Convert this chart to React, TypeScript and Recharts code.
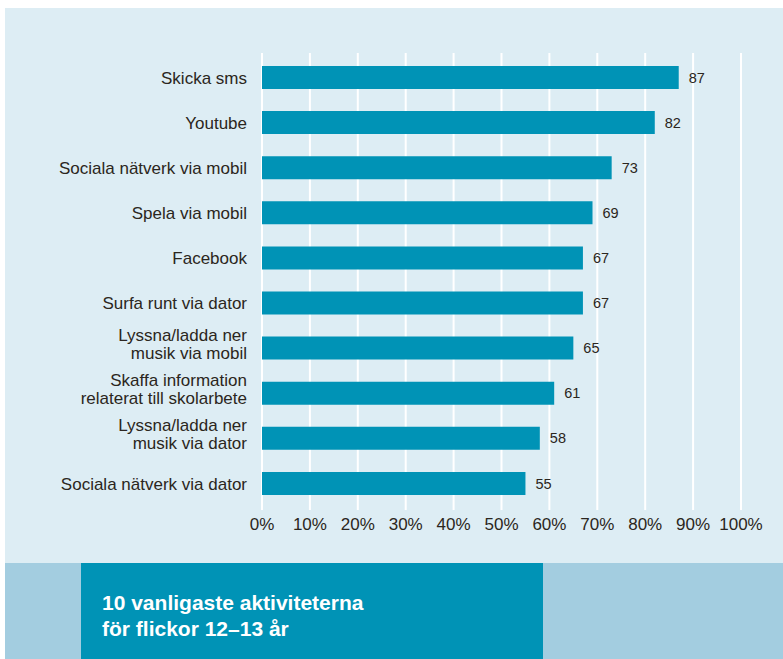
import React from "react";
import { BarChart, Bar, XAxis, YAxis, CartesianGrid, LabelList } from "recharts";

const categories = [
  "Skicka sms",
  "Youtube",
  "Sociala nätverk via mobil",
  "Spela via mobil",
  "Facebook",
  "Surfa runt via dator",
  "Lyssna/ladda ner\nmusik via mobil",
  "Skaffa information\nrelaterat till skolarbete",
  "Lyssna/ladda ner\nmusik via dator",
  "Sociala nätverk via dator",
];
const values = [87, 82, 73, 69, 67, 67, 65, 61, 58, 55];
const xTicks = [0, 10, 20, 30, 40, 50, 60, 70, 80, 90, 100];
const titleLines = ["10 vanligaste aktiviteterna", "för flickor 12–13 år"];

const data = categories.map((c, i) => ({ name: c, value: values[i] }));

const FONT = "'Liberation Sans', Arial, Helvetica, sans-serif";
const TEXT = "#2b2620";
const BAR = "#0093b6";

const YTick = (props: any) => {
  const { x, y, payload } = props;
  const lines = String(payload.value).split("\n");
  const lh = 18;
  const start = lines.length === 1 ? 0 : -lh / 2 - 4;
  return (
    <g>
      {lines.map((l: string, i: number) => (
        <text
          key={i}
          x={x}
          y={y + start + i * lh}
          dy="0.36em"
          textAnchor="end"
          fontSize={17}
          fontFamily={FONT}
          fill={TEXT}
        >
          {l}
        </text>
      ))}
    </g>
  );
};

export default function App() {
  return (
    <div style={{ position: "relative", width: 783, height: 659, background: "#ffffff", fontFamily: FONT }}>
      <style>{`body{margin:0}`}</style>
      <div style={{ position: "absolute", left: 5, top: 8, width: 778, height: 555, background: "#ddedf4" }} />
      <div style={{ position: "absolute", left: 5, top: 563, width: 778, height: 96, background: "#a3cde0" }} />
      <div style={{ position: "absolute", left: 81, top: 563, width: 462, height: 96, background: BAR }}>
        {titleLines.map((t, i) => (
          <div
            key={i}
            style={{
              position: "absolute",
              left: 21,
              top: 28 + i * 26,
              color: "#ffffff",
              fontWeight: "bold",
              fontSize: 21,
              lineHeight: "24px",
              whiteSpace: "nowrap",
            }}
          >
            {t}
          </div>
        ))}
      </div>
      <div style={{ position: "absolute", left: 0, top: 0 }}>
        <BarChart
          width={783}
          height={563}
          data={data}
          layout="vertical"
          margin={{ top: 53, right: 42, bottom: 23, left: 0 }}
          barCategoryGap={11}
        >
          <CartesianGrid horizontal={false} vertical={true} stroke="#ffffff" strokeWidth={2} />
          <XAxis
            type="number"
            domain={[0, 100]}
            ticks={xTicks}
            tickFormatter={(v: number) => `${v}%`}
            axisLine={false}
            tickLine={false}
            height={30}
            interval={0}
            tick={{ fontSize: 17, fontFamily: FONT, fill: TEXT }}
          />
          <YAxis
            type="category"
            dataKey="name"
            width={262}
            axisLine={false}
            tickLine={false}
            tickSize={0}
            tickMargin={15}
            interval={0}
            padding={{ top: 2, bottom: 4 }}
            tick={<YTick />}
          />
          <Bar dataKey="value" fill={BAR} isAnimationActive={false} barSize={23}>
            <LabelList
              dataKey="value"
              position="right"
              offset={10}
              style={{ fontSize: 14.5, fontFamily: FONT, fill: TEXT }}
            />
          </Bar>
        </BarChart>
      </div>
    </div>
  );
}
